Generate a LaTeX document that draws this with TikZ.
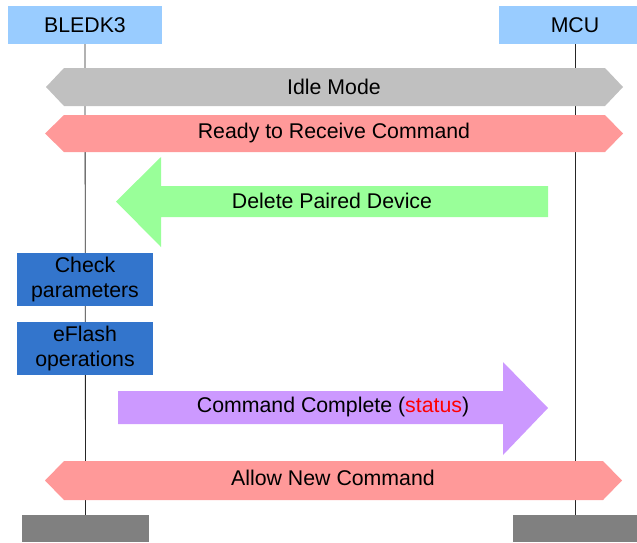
\documentclass[tikz,border=0pt]{standalone}
\usepackage{fontspec}
\setmainfont{Liberation Sans}
\begin{document}
\begin{tikzpicture}[x=1pt,y=-1pt,
  every node/.style={font=\fontsize{21.3}{25}\selectfont, text=black, inner sep=0pt},
  header/.style={fill=headblue, minimum width=154pt, minimum height=38pt},
  foot/.style={fill=footgray, minimum height=27pt},
  lifeline/.style={draw=black!85, line width=0.8pt},
  procbox/.style={fill=procblue, minimum width=136pt, minimum height=53pt, align=center}
]
\definecolor{headblue}{HTML}{99CCFF}
\definecolor{idlegray}{HTML}{C0C0C0}
\definecolor{pinkbar}{HTML}{FF9999}
\definecolor{greenbar}{HTML}{99FF99}
\definecolor{procblue}{HTML}{3375CC}
\definecolor{purplebar}{HTML}{CC99FF}
\definecolor{footgray}{HTML}{808080}
\definecolor{statusred}{HTML}{FF0000}
\useasboundingbox (0,0) rectangle (637,542);

% headers and feet
\node[header] (bledk) at (85,25) {BLEDK3};
\node[header, minimum width=138pt] (mcu) at (568,25) {};
\node at (575,25) (mcutext) {MCU};
\node[foot, minimum width=127pt] (footL) at (85.5,528.5) {};
\node[foot, minimum width=124pt] (footR) at (575,528.5) {};

% lifelines
\draw[lifeline] (bledk.south) -- (footL.north);
\draw[lifeline] (mcutext |- mcu.south) -- (footR.north);

% Idle Mode
\fill[idlegray] (64,68) -- (605,68) -- (623,87) -- (605,106) -- (64,106) -- (46,87) -- cycle;
\node (idle) at (334,87) {Idle Mode};

% Ready
\fill[pinkbar] (64,115) -- (605,115) -- (623,133.5) -- (605,152) -- (64,152) -- (45,133.5) -- cycle;
\node (ready) at (334,133) {Ready to Receive Command};

% Delete Paired Device
\fill[greenbar] (548,186) -- (161,186) -- (161,157) -- (116,201.5) -- (161,247) -- (161,217) -- (548,217) -- cycle;
\node (del) at (332,201) {Delete Paired Device};

% process boxes
\node[procbox] (check) at (85,279.5) {Check\\parameters};
\node[procbox] (eflash) at (85,348.5) {eFlash\\operations};

% Command Complete
\fill[purplebar] (118,391) -- (503,391) -- (503,362) -- (548,408) -- (503,455) -- (503,424) -- (118,424) -- cycle;
\node (cc) at (333,407) {Command Complete (\textcolor{statusred}{status})};

% Allow New Command
\fill[pinkbar] (64,461) -- (603,461) -- (622,480.5) -- (603,500) -- (64,500) -- (45,480.5) -- cycle;
\node (allow) at (333,478) {Allow New Command};
\end{tikzpicture}
\end{document}
